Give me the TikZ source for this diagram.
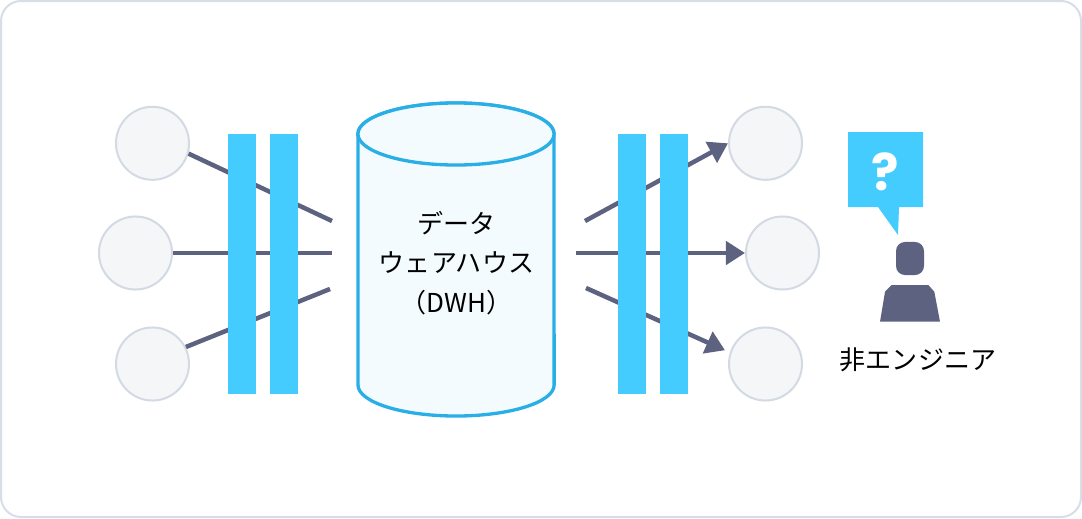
\documentclass[tikz,border=0pt]{standalone}
\usepackage{fontspec}
\setmainfont{Noto Sans CJK JP}
\newfontfamily\markfont{Poppins}
\usetikzlibrary{arrows.meta}
\definecolor{barblue}{HTML}{44CCFF}
\definecolor{cylblue}{HTML}{29AEE6}
\definecolor{cylfill}{HTML}{F3FBFF}
\definecolor{flowgray}{HTML}{5D6280}
\definecolor{circfill}{HTML}{F4F6F8}
\definecolor{circline}{HTML}{D3DAE3}
\definecolor{frameline}{HTML}{D8DDE8}
\tikzset{
  endpoint/.style={circle,draw=circline,fill=circfill,line width=0.02cm,minimum size=0.73cm,inner sep=0pt},
  etlbar/.style={rectangle,fill=barblue,minimum width=0.28cm,minimum height=2.6cm,inner sep=0pt,outer sep=0pt},
  flow/.style={draw=flowgray,line width=0.045cm},
  flowin/.style={flow,-{Triangle[length=0.19cm,width=0.23cm]}},
  dwh/.style={draw=cylblue,fill=cylfill,line width=0.033cm},
  dwhend/.style={x radius=0.98cm,y radius=0.31cm},
  jptext/.style={font=\fontsize{7.4}{11.2}\selectfont,align=center,inner sep=0pt}
}
\begin{document}
\begin{tikzpicture}[x=0.01cm,y=-0.01cm]
\useasboundingbox (0,0) rectangle (1082,518);
\draw [frameline,line width=0.02cm,rounded corners=0.2cm] (1,1) rectangle (1081,517);
\node [endpoint] (src1) at (152.5,143.3) {};
\node [endpoint] (src2) at (135.5,253) {};
\node [endpoint] (src3) at (152.5,364) {};
\node [endpoint] (dst1) at (765.5,143.3) {};
\node [endpoint] (dst2) at (782.5,253) {};
\node [endpoint] (dst3) at (765.5,364) {};
\coordinate (in1) at (332,221);
\coordinate (in2) at (332,253);
\coordinate (in3) at (330,289);
\coordinate (out1) at (585,221);
\coordinate (out2) at (576,253);
\coordinate (out3) at (586,288);
\draw [flow] (src1.-16) -- (in1);
\draw [flow] (src2.east) -- (in2);
\draw [flow] (src3.27) -- (in3);
\draw [flowin] (out1) -- (dst1.west);
\draw [flowin] (out2) -- (dst2.west);
\draw [flowin,shorten >=1.5pt] (out3) -- (dst3.162);
\node [etlbar] (bar1) at (242,264) {};
\node [etlbar] (bar2) at (284,264) {};
\node [etlbar] (bar3) at (632,264) {};
\node [etlbar] (bar4) at (674,264) {};
\draw [dwh] (358,134) -- (358,385) arc [start angle=180,end angle=360,dwhend] -- (554,134) arc [start angle=0,end angle=180,dwhend] -- cycle;
\draw [dwh] (456,134) ellipse [dwhend];
\node [jptext] (storelabel) at (456.5,263) {データ\\ウェアハウス\\（DWH）};
\fill [barblue] (848,132) -- (923,132) -- (923,207) -- (899,207) -- (898,235) -- (878,207) -- (848,207) -- cycle;
\node [font=\markfont\bfseries\fontsize{14.5}{14.5}\selectfont,text=white,inner sep=0pt] (mark) at (885.5,172) {?};
\node [rectangle,rounded corners=0.09cm,fill=flowgray,minimum width=0.28cm,minimum height=0.33cm,inner sep=0pt] (head) at (910,258.5) {};
\fill [flowgray] (880,321.7) -- (885,291.7) -- (891.7,285) -- (928.3,285) -- (934.3,291.7) -- (940,321.7) -- cycle;
\node [jptext] (userlabel) at (918,360) {非エンジニア};
\end{tikzpicture}
\end{document}
